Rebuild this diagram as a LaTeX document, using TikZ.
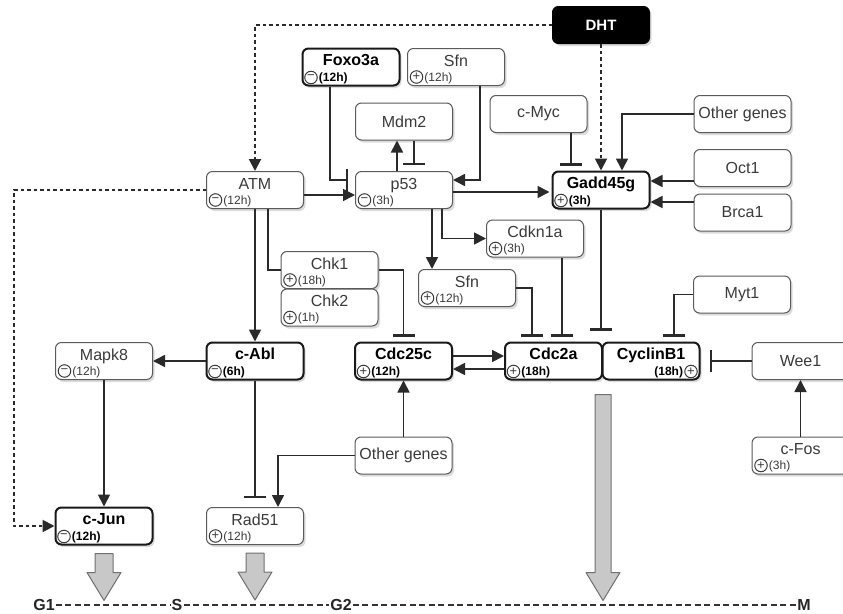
\documentclass[tikz,border=0pt]{standalone}
\usepackage{fontspec}
\setmainfont{Liberation Sans}
\usetikzlibrary{arrows.meta,shadows,calc}
\definecolor{ink}{HTML}{3A3A3A}
\definecolor{wire}{HTML}{2A2A2A}
\definecolor{edge}{HTML}{5A5A5A}
\definecolor{blockfill}{HTML}{C8C8C8}
\definecolor{blockline}{HTML}{707070}
\tikzset{
 gbox/.style={draw=edge, line width=1pt, rounded corners=6pt, fill=white, minimum width=97pt, minimum height=37pt, inner sep=0pt, text=ink, font=\fontsize{16}{17}\selectfont, drop shadow={shadow xshift=2pt, shadow yshift=-2.5pt, opacity=0.28}},
 bbox/.style={gbox, draw=black!90, line width=2pt},
 gname/.style={inner sep=0pt, anchor=base, text=ink, font=\fontsize{16}{17}\selectfont},
 bname/.style={gname, text=black, font=\fontsize{16}{17}\selectfont\bfseries},
 gsub/.style={inner sep=0pt, anchor=base west, text=ink, font=\fontsize{12}{13}\selectfont},
 bsub/.style={gsub, text=black, font=\fontsize{12}{13}\selectfont\bfseries},
 sgn/.style={circle, draw=ink, line width=1pt, minimum size=12.5pt, inner sep=0pt, text=ink, font=\fontsize{13}{13}\selectfont},
 wireline/.style={draw=wire, line width=1.7pt},
 act/.style={wireline, -{Triangle[length=12pt,width=12pt]}},
 inh/.style={wireline, -{Bar[width=22pt,line width=2.2pt]}},
 dotline/.style={draw=wire, line width=2pt, dash pattern=on 3.5pt off 3pt, -{Triangle[length=12pt,width=12pt]}},
 blockarrow/.style={fill=blockfill, draw=blockline, line width=1pt, line join=round},
 phase/.style={inner sep=1pt, text=black!85, font=\fontsize{16}{17}\selectfont\bfseries},
 tline/.style={draw=black!80, line width=2pt, dash pattern=on 6pt off 3.5pt},
}
\newcommand\gtwo[8]{%
 \node[#2] (#1) at #3 {};
 \node[#4] (#1-n) at ($(#1.north)+(0,18)$) {#5};
 \node[sgn] (#1-c) at ($(#1.south west)+(9.5,-9)$) {#7};
 \node[#6] (#1-s) at ($(#1-c.east)+(1,4.2)$) {#8};
}
\begin{document}
\begin{tikzpicture}[x=1pt,y=-1pt]
\clip (0,0) rectangle (843,613);
\fill[white] (0,0) rectangle (843,613);
% nodes
\node[gbox, fill=black, draw=black, text=white, font=\fontsize{15}{16}\selectfont\bfseries] (DHT) at (601,25) {DHT};
\gtwo{Foxo}{bbox}{(351,67)}{bname}{Foxo3a}{bsub}{−}{(12h)}
\gtwo{SfnT}{gbox}{(456,67)}{gname}{Sfn}{gsub}{+}{(12h)}
\node[gbox] (Mdm2) at (404,121.5) {Mdm2};
\node[gbox] (cMyc) at (538.5,114) {c-Myc};
\node[gbox] (OtherT) at (742.5,114) {Other genes};
\gtwo{ATM}{gbox}{(255,190)}{gname}{ATM}{gsub}{−}{(12h)}
\gtwo{p53}{gbox}{(404,190)}{gname}{p53}{gsub}{−}{(3h)}
\gtwo{Gadd}{bbox}{(601,190)}{bname}{Gadd45g}{bsub}{+}{(3h)}
\node[gbox] (Oct1) at (742.5,168) {Oct1};
\node[gbox] (Brca1) at (742.5,212.5) {Brca1};
\gtwo{Cdkn}{gbox}{(535,238.5)}{gname}{Cdkn1a}{gsub}{+}{(3h)}
\gtwo{Chk1}{gbox}{(329.5,270)}{gname}{Chk1}{gsub}{+}{(18h)}
\gtwo{Chk2}{gbox}{(329.5,307.5)}{gname}{Chk2}{gsub}{+}{(1h)}
\gtwo{SfnM}{gbox}{(467,288)}{gname}{Sfn}{gsub}{+}{(12h)}
\node[gbox] (Myt1) at (742,294.5) {Myt1};
\gtwo{Mapk8}{gbox}{(104,361)}{gname}{Mapk8}{gsub}{−}{(12h)}
\gtwo{cAbl}{bbox}{(255,361)}{bname}{c-Abl}{bsub}{−}{(6h)}
\gtwo{Cdc25c}{bbox}{(403.5,361)}{bname}{Cdc25c}{bsub}{+}{(12h)}
\gtwo{Cdc2a}{bbox}{(553.5,361)}{bname}{Cdc2a}{bsub}{+}{(18h)}
\node[bbox] (CycB) at (651,361) {};
\node[bname] (CycB-n) at ($(CycB.north)+(0,18)$) {CyclinB1};
\node[sgn] (CycB-c) at ($(CycB.south east)+(-9.5,-9)$) {+};
\node[bsub, anchor=base east] (CycB-s) at ($(CycB-c.west)+(-1,4.2)$) {(18h)};
\node[gbox] (Wee1) at (800.5,361) {Wee1};
\gtwo{cFos}{gbox}{(800.5,455.5)}{gname}{c-Fos}{gsub}{+}{(3h)}
\node[gbox] (OtherB) at (403.5,455.5) {Other genes};
\gtwo{cJun}{bbox}{(104,526)}{bname}{c-Jun}{bsub}{−}{(12h)}
\gtwo{Rad51}{gbox}{(255,526)}{gname}{Rad51}{gsub}{+}{(12h)}
% connectors
\draw[dotline] (DHT.west) -| (ATM.north);
\draw[dotline] (DHT.south) -- (Gadd.north);
\draw[dotline] (ATM.west) -- ++(-192,0) |- (cJun.west);
\draw[inh, shorten >=7pt] ($(Foxo.south)+(-21,0)$) |- ($(p53.west)+(0,-10)$);
\draw[act] ($(SfnT.south)+(24,0)$) |- ($(p53.east)+(0,-10)$);
\draw[act] ($(p53.north)+(-7,0)$) -- ($(Mdm2.south)+(-7,0)$);
\draw[inh, shorten >=6pt] ($(Mdm2.south)+(10,0)$) -- ($(p53.north)+(10,0)$);
\draw[act] ($(ATM.east)+(0,5)$) -- ($(p53.west)+(0,5)$);
\draw[act, shorten >=2pt] ($(p53.east)+(0,2)$) -- ($(Gadd.west)+(0,2)$);
\draw[inh, shorten >=5pt] ($(cMyc.south)+(32.5,0)$) -- ($(Gadd.north)+(-30,0)$);
\draw[act] (OtherT.west) -| ($(Gadd.north)+(21,0)$);
\draw[act] ($(Oct1.west)+(0,13)$) -- ($(Gadd.east)+(0,-9)$);
\draw[act] ($(Brca1.west)+(0,-10.5)$) -- ($(Gadd.east)+(0,12)$);
\draw[act] ($(p53.south)+(38,0)$) |- (Cdkn.west);
\draw[act] ($(p53.south)+(28,0)$) -- ($(SfnM.north)+(-35,0)$);
\draw[act] (ATM.south) -- (cAbl.north);
\draw[wireline] ($(ATM.south)+(13,0)$) |- (Chk1.west);
\draw[inh, shorten >=5pt] (Chk1.east) -| (Cdc25c.north);
\draw[inh, shorten >=5pt] (SfnM.east) -| ($(Cdc2a.north)+(-21.5,0)$);
\draw[inh, shorten >=5pt] ($(Cdkn.south)+(27,0)$) -- ($(Cdc2a.north)+(8.5,0)$);
\coordinate (gEnd) at (Gadd.south |- Cdc2a.north);
\draw[inh, shorten >=11pt] (Gadd.south) -- (gEnd);
\draw[inh, shorten >=5pt] (Myt1.west) -| ($(CycB.north)+(23,0)$);
\draw[inh, shorten >=9pt] (Wee1.west) -- (CycB.east);
\draw[act] (cFos.north) -- (Wee1.south);
\draw[act] ($(Cdc25c.east)+(0,-5)$) -- ($(Cdc2a.west)+(0,-5)$);
\draw[act] ($(Cdc2a.west)+(0,8)$) -- ($(Cdc25c.east)+(0,8)$);
\draw[act] (cAbl.west) -- (Mapk8.east);
\draw[act] (Mapk8.south) -- (cJun.north);
\draw[inh, shorten >=9pt] (cAbl.south) -- (Rad51.north);
\draw[act] (OtherB.west) -| ($(Rad51.north)+(23,0)$);
\draw[act] (OtherB.north) -- (Cdc25c.south);
% block arrows
\coordinate (b1) at ($(cJun.south)+(0,8)$);
\draw[blockarrow] ($(b1)+(-9,0)$) -- ++(18,0) -- ++(0,19) -- ++(8,0) -- ++(-17,28) -- ++(-17,-28) -- ++(8,0) -- cycle;
\coordinate (b2) at ($(Rad51.south)+(0,8)$);
\draw[blockarrow] ($(b2)+(-9,0)$) -- ++(18,0) -- ++(0,19) -- ++(8,0) -- ++(-17,28) -- ++(-17,-28) -- ++(8,0) -- cycle;
\coordinate (b3) at ($(Cdc2a.south east)+(0,14)$);
\draw[blockarrow] ($(b3)+(-8,0)$) -- ++(16,0) -- ++(0,178) -- ++(9,0) -- ++(-17,28) -- ++(-17,-28) -- ++(9,0) -- cycle;
% timeline
\node[phase] (G1) at (44,605) {G1};
\node[phase] (S) at (177,605) {S};
\node[phase] (G2) at (341,605) {G2};
\node[phase] (M) at (804,605) {M};
\draw[tline] (G1.east) -- (S.west);
\draw[tline] (S.east) -- (G2.west);
\draw[tline] (G2.east) -- (M.west);
\end{tikzpicture}
\end{document}
